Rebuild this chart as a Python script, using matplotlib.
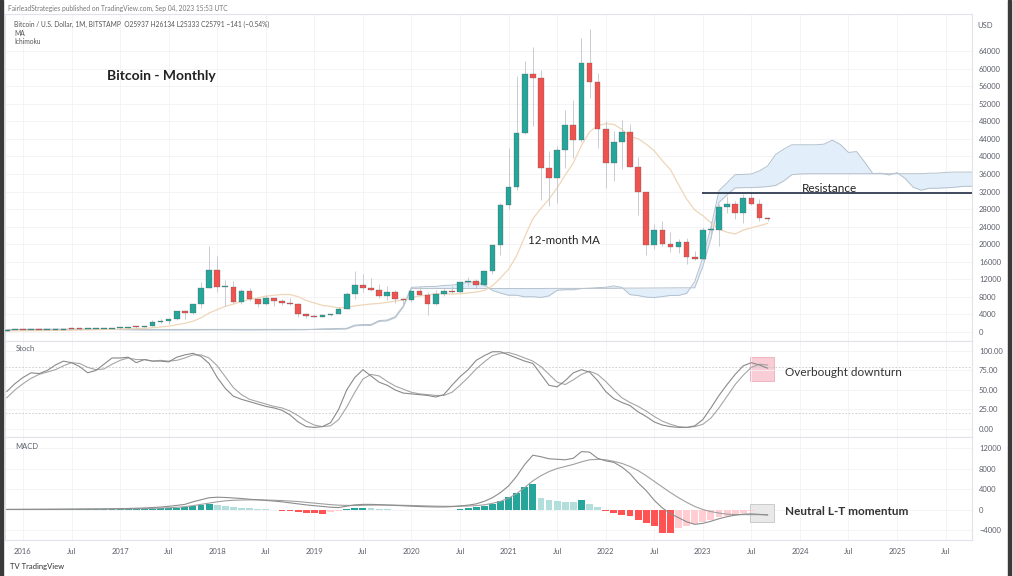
import numpy as np
import matplotlib
matplotlib.use("Agg")
import matplotlib.pyplot as plt
from matplotlib.patches import Rectangle

# ======================================================
# DATA  (monthly bars, first bar = Nov 2015)
# ======================================================
FIRST_MONTH = -2  # Nov 2015, counted from Jan 2016

opens = [311, 377, 430, 369, 437, 416, 448, 531, 673, 624, 575, 608, 699, 742,
         963, 970, 1190, 1080, 1350, 2300, 2480, 2870, 4730, 4340, 6460, 10000,
         14150, 10200, 10300, 6920, 9240, 7490, 6390, 7730, 7030, 6630, 6370, 4040,
         3740, 3460, 3810, 4100, 5320, 8560, 10820, 10080, 9600, 8300, 9150, 7550,
         7190, 9350, 8540, 6410, 8630, 9450, 9140, 11340, 11650, 10780, 13790, 19710,
         28990, 33110, 45240, 58800, 57750, 37300, 35040, 41460, 47100, 43800, 61300, 57000,
         46200, 38500, 43200, 45500, 37700, 31800, 19900, 23300, 20050, 19430, 20500, 17170,
         16540, 23130, 23150, 28470, 29250, 27220, 30470, 29230, 25937]
highs = [495, 465, 460, 448, 440, 466, 550, 780, 705, 626, 628, 720, 756, 978,
         1150, 1200, 1290, 1350, 2790, 3000, 2930, 4750, 5000, 6470, 11400, 19666,
         17200, 11800, 11700, 9750, 9990, 7760, 8500, 7750, 7410, 7680, 6600, 4400,
         4100, 4200, 4140, 5640, 9070, 13880, 13200, 12330, 10950, 10370, 9500, 7750,
         9590, 10500, 9190, 9460, 10080, 10400, 11450, 12480, 12090, 14100, 19880, 29300,
         41950, 58350, 61790, 64900, 59600, 41300, 42300, 50500, 52900, 67000, 69000, 59100,
         47990, 45800, 48200, 47400, 39900, 31900, 24700, 25200, 22800, 21100, 21480, 18400,
         23950, 25250, 29200, 31000, 29820, 31400, 31800, 30200, 26134]
lows = [300, 350, 350, 366, 394, 412, 436, 525, 605, 480, 570, 605, 685, 740,
        750, 940, 890, 1080, 1350, 2100, 1840, 2680, 2980, 4110, 5500, 10000,
        9000, 6000, 6600, 6430, 7030, 5750, 6070, 5880, 6100, 6200, 3500, 3120,
        3350, 3390, 3730, 4080, 5320, 7440, 9070, 9320, 7710, 7300, 6520, 6430,
        6860, 8460, 3850, 6150, 8100, 8900, 8990, 10520, 9880, 10380, 13220, 17570,
        28130, 32300, 45000, 47000, 30000, 28800, 29300, 37300, 39600, 43300, 53300, 42000,
        32900, 34300, 37200, 37600, 26700, 17600, 18800, 19600, 18200, 18100, 15500, 16300,
        16500, 21350, 19550, 27000, 25800, 24800, 28860, 25300, 25333]
closes = [377, 430, 369, 437, 416, 448, 531, 673, 624, 575, 608, 699, 742, 963,
          970, 1190, 1080, 1350, 2300, 2480, 2870, 4730, 4340, 6460, 10000, 14150,
          10200, 10300, 6920, 9240, 7490, 6390, 7730, 7030, 6630, 6370, 4040, 3740,
          3460, 3810, 4100, 5320, 8560, 10820, 10080, 9600, 8300, 9150, 7550, 7190,
          9350, 8540, 6410, 8630, 9450, 9140, 11340, 11650, 10780, 13790, 19710, 28990,
          33110, 45240, 58800, 57750, 37300, 35040, 41460, 47100, 43800, 61300, 57000, 46200,
          38500, 43200, 45500, 37700, 31800, 19900, 23300, 20050, 19430, 20500, 17170, 16540,
          23130, 23150, 28470, 29250, 27220, 30470, 29230, 25940, 25791]

# 12-month moving average
ma12 = [267, 276, 289, 304, 318, 336, 361, 395, 424, 452, 483, 516, 546, 590,
        640, 703, 759, 834, 981, 1132, 1319, 1665, 1976, 2456, 3228, 4327,
        5096, 5855, 6342, 6999, 7432, 7758, 8163, 8354, 8545, 8538, 8041, 7173,
        6612, 6071, 5836, 5509, 5598, 5968, 6163, 6378, 6517, 6748, 7041, 7328,
        7819, 8213, 8406, 8682, 8756, 8616, 8721, 8892, 9098, 9485, 10498, 12315,
        14295, 17353, 21719, 25813, 28133, 30292, 32802, 35756, 38508, 42467, 45574, 47008,
        47458, 47288, 46179, 44508, 44050, 42788, 41275, 39021, 36990, 33590, 30271, 27799,
        26518, 24848, 23428, 22724, 22343, 23223, 23718, 24208, 24738]

# Ichimoku leading spans (plotted 26 bars ahead, to Sep 2025)
span_a = [140, 590, 600, 610, 620, 630, 640, 650, 660, 650, 640, 630, 600, 570,
          540, 500, 480, 470, 460, 460, 455, 457, 460, 470, 480, 490,
          490, 494, 480, 470, 470, 475, 486, 490, 495, 505, 515, 526,
          620, 722, 760, 803, 835, 1578, 1690, 1710, 2600, 2730, 3515, 5980,
          10175, 10250, 10380, 10380, 10600, 10680, 10970, 11330, 11390, 10770, 9450, 8870,
          8365, 8380, 8010, 8045, 7860, 8230, 9500, 9630, 9630, 9890, 9980, 10100,
          10190, 10500, 10160, 8510, 8300, 7950, 7840, 8075, 8330, 8330, 8790, 11490,
          16970, 23800, 32200, 34000, 35850, 35900, 36000, 36700, 37800, 40450, 41650, 42650,
          42650, 42650, 42650, 42800, 43700, 42700, 40900, 41100, 38700, 36100, 36170, 35770,
          36300, 34970, 32970, 32300, 32750, 32750, 32850, 32950, 33150, 33200, 33200]
span_b = [560, 582, 582, 583, 583, 583, 584, 584, 584, 584, 584, 585, 585, 585,
          585, 585, 585, 585, 585, 585, 585, 585, 586, 586, 586, 586,
          586, 586, 586, 586, 586, 587, 587, 587, 587, 587, 587, 587,
          587, 587, 587, 650, 685, 1405, 1510, 1510, 2415, 2540, 3270, 5750,
          9890, 9893, 9895, 9900, 9905, 9905, 9905, 9908, 9908, 9908, 9908, 9908,
          9908, 9908, 9909, 9909, 9909, 9932, 9932, 9932, 9932, 9932, 9932, 9932,
          9945, 9950, 9983, 10008, 10008, 10016, 10030, 10039, 10051, 10073, 10073, 10073,
          14935, 21278, 29518, 31265, 32825, 32895, 32895, 32990, 33125, 33370, 34420, 35840,
          35990, 36060, 36060, 36060, 36060, 36060, 36060, 36060, 36060, 36060, 36060, 36060,
          36060, 36060, 36060, 36060, 36175, 36195, 36365, 36425, 36425, 36425, 36425]

# Stochastic %K / %D
stoch_k = [48, 58, 66, 72, 71, 75, 82, 87, 85, 80, 72, 75, 83, 91,
           91, 92, 85, 89, 87, 87, 86, 92, 95, 97, 93, 84,
           66, 52, 42, 38, 35, 32, 29, 27, 24, 18, 9, 3,
           2, 3, 8, 25, 50, 66, 76, 68, 60, 56, 50, 46,
           45, 44, 43, 41, 44, 56, 67, 76, 88, 94, 99, 99,
           95, 91, 87, 84, 70, 56, 54, 62, 72, 76, 73, 62,
           48, 39, 34, 30, 22, 16, 9, 5, 3, 2, 2, 4,
           12, 27, 43, 57, 70, 81, 85, 82, 78]
stoch_d = [40, 50, 58, 65, 70, 73, 76, 81, 85, 84, 79, 76, 77, 83,
           88, 91, 89, 89, 87, 88, 87, 88, 91, 95, 95, 91,
           81, 67, 53, 44, 38, 35, 32, 29, 27, 23, 17, 10,
           5, 3, 4, 12, 28, 47, 64, 70, 68, 61, 55, 51,
           47, 45, 44, 43, 43, 47, 56, 66, 77, 86, 94, 97,
           98, 95, 91, 87, 80, 70, 60, 57, 63, 70, 74, 70,
           61, 50, 40, 34, 29, 23, 16, 10, 6, 3, 2, 3,
           6, 14, 27, 42, 57, 69, 79, 83, 82]

# MACD line, signal line, histogram
macd_line = [20, 25, 30, 35, 40, 45, 55, 70, 80, 90, 100, 110, 120, 150,
             170, 200, 250, 300, 380, 480, 620, 800, 1000, 1500, 1900, 2300,
             2400, 2350, 2250, 2150, 2000, 1900, 1780, 1650, 1500, 1300, 1100, 900,
             750, 600, 450, 380, 650, 900, 1000, 1000, 950, 870, 800, 720,
             650, 580, 530, 500, 500, 560, 700, 850, 1100, 1600, 2300, 3300,
             4600, 6500, 8800, 10600, 10300, 9900, 9800, 9700, 10000, 11300, 11200, 10000,
             9500, 9200, 8300, 7000, 5200, 3700, 1800, 300, -800, -1600, -2400, -2900,
             -2700, -2300, -1800, -1400, -1100, -900, -850, -950, -1050]
macd_signal = [15, 18, 22, 26, 30, 34, 38, 43, 50, 57, 65, 72, 80, 95,
               110, 125, 150, 180, 220, 270, 340, 430, 550, 750, 1000, 1250,
               1500, 1700, 1800, 1850, 1880, 1880, 1850, 1800, 1750, 1650, 1550, 1400,
               1250, 1100, 950, 850, 800, 800, 820, 850, 870, 870, 850, 820,
               780, 740, 700, 660, 630, 620, 640, 680, 760, 920, 1200, 1600,
               2200, 3100, 4300, 5600, 6600, 7400, 8000, 8400, 8800, 9300, 9700, 9800,
               9700, 9400, 9000, 8400, 7600, 6600, 5500, 4400, 3300, 2300, 1400, 600,
               0, -400, -700, -900, -1000, -1000, -1000, -1000, -1050]
macd_hist = [5, 7, 8, 9, 10, 11, 12, 13, 15, 18, 20, 25, 30, 35,
             40, 60, 80, 110, 150, 200, 270, 360, 480, 650, 850, 1050,
             850, 650, 500, 380, 280, 180, 80, -100, -250, -380, -500, -600,
             -700, -780, -550, -250, 150, 300, 320, 200, 100, 40, -30, -80,
             -120, -150, -120, -100, -80, -40, 60, 200, 400, 650, 1100, 1700,
             2400, 3300, 4400, 5000, 2150, 1800, 1600, 1500, 1450, 1800, 1170, 500,
             -300, -650, -980, -1300, -1950, -2600, -3250, -4500, -4600, -3580, -3200, -2900,
             -2400, -1950, -1500, -1200, -980, -650, -330, -150, -60]

resistance = 31660

x_labels = ["2016", "Jul", "2017", "Jul", "2018", "Jul", "2019", "Jul", "2020", "Jul",
            "2021", "Jul", "2022", "Jul", "2023", "Jul", "2024", "Jul", "2025", "Jul"]
price_ticks = [0, 4000, 8000, 12000, 16000, 20000, 24000, 28000, 32000, 36000,
               40000, 44000, 48000, 52000, 56000, 60000, 64000]
stoch_ticks = [0, 25, 50, 75, 100]
macd_ticks = [-4000, 0, 4000, 8000, 12000]

# ======================================================
# STYLE
# ======================================================
plt.rcParams["font.family"] = ["Lato", "DejaVu Sans"]
UP, DOWN = "#26a69a", "#ef5350"
GRID = "#f2f3f6"
AXIS_TXT = "#5d606b"
W, H = 1013, 576


def frac(x0, y0, x1, y1):
    return [x0 / W, 1 - y1 / H, (x1 - x0) / W, (y1 - y0) / H]


fig = plt.figure(figsize=(W / 100, H / 100), dpi=100)
fig.patch.set_facecolor("white")
ax_p = fig.add_axes(frac(5, 14, 972, 341))
ax_s = fig.add_axes(frac(5, 341, 972, 437), sharex=ax_p)
ax_m = fig.add_axes(frac(5, 437, 972, 540), sharex=ax_p)

xb = np.arange(len(closes)) + FIRST_MONTH
xs = np.arange(len(span_a)) + FIRST_MONTH

for ax in (ax_p, ax_s, ax_m):
    ax.set_xlim(-2.22, 117.26)
    ax.yaxis.tick_right()
    ax.tick_params(axis="y", length=0, pad=5, labelsize=5.5, labelcolor=AXIS_TXT)
    ax.tick_params(axis="x", length=0)
    for sp in ax.spines.values():
        sp.set_color("#e0e3eb")
        sp.set_linewidth(0.8)
    ax.grid(True, color=GRID, lw=0.6)
    ax.set_axisbelow(True)

# ======================================================
# PRICE PANE
# ======================================================
ax_p.fill_between(xs, span_a, span_b, color="#e2eef9", lw=0, zorder=1)
ax_p.plot(xs, span_a, color="#b3c1ce", lw=0.7, zorder=2)
ax_p.plot(xs, span_b, color="#b8c2cc", lw=0.7, zorder=2)
ax_p.plot(xb, ma12, color="#efd6b8", lw=0.9, zorder=2)

for x, o, h, l, c in zip(xb, opens, highs, lows, closes):
    col = UP if c >= o else DOWN
    ax_p.vlines(x, l, h, color="#c0c4cb", lw=0.6, zorder=3)
    body = max(abs(c - o), 250)
    ax_p.bar(x, body, bottom=min(o, c), width=0.7, color=col, edgecolor="#555555",
             lw=0.2, zorder=4)

ax_p.hlines(resistance, 83.9, 117.26, color="#2f3b52", lw=1.3, zorder=5)
ax_p.set_ylim(-2050, 72440)
ax_p.set_yticks(price_ticks)
ax_p.set_yticklabels([str(t) for t in price_ticks])

ax_p.text(10.4, 58300, "Bitcoin - Monthly", fontsize=10, fontweight="bold",
          color="#222222", va="center")
ax_p.text(62.4, 20730, "12-month MA", fontsize=8.3, color="#222222", va="center")
ax_p.text(96.2, 32000, "Resistance", fontsize=8.5, color="#222222", va="baseline")

# ======================================================
# STOCH PANE
# ======================================================
ax_s.axhline(80, color="#c8c8c8", lw=0.6, ls=(0, (2, 2)))
ax_s.axhline(20, color="#c8c8c8", lw=0.6, ls=(0, (2, 2)))
ax_s.plot(xb, stoch_d, color="#a6a6a6", lw=0.8)
ax_s.plot(xb, stoch_k, color="#8a8a8a", lw=0.8)
ax_s.set_ylim(-10.3, 112.8)
ax_s.set_yticks(stoch_ticks)
ax_s.set_yticklabels([f"{t:.2f}" for t in stoch_ticks])
ax_s.add_patch(Rectangle((89.8, 61.5), 3.0, 31, facecolor="#f7c5cf", edgecolor="#e8a3b2",
                         lw=0.6, alpha=0.85, zorder=0.5))
ax_s.text(94.2, 73, "Overbought downturn", fontsize=8.5, color="#333333", va="center")
ax_s.text(0.011, 0.9, "Stoch", transform=ax_s.transAxes, fontsize=5.5, color=AXIS_TXT)

# ======================================================
# MACD PANE
# ======================================================
hist_cols = []
prev = 0
for v in macd_hist:
    if v >= 0:
        hist_cols.append("#26a69a" if v >= prev else "#b2dfdb")
    else:
        hist_cols.append("#ffcdd2" if v >= prev else "#ff5252")
    prev = v
ax_m.bar(xb, macd_hist, width=0.85, color=hist_cols, lw=0, zorder=2)
ax_m.plot(xb, macd_signal, color="#a0a0a0", lw=0.8, zorder=3)
ax_m.plot(xb, macd_line, color="#8c8c8c", lw=0.8, zorder=3)
ax_m.set_ylim(-5950, 14150)
ax_m.set_yticks(macd_ticks)
ax_m.set_yticklabels([str(t).replace("-", "\u2212") for t in macd_ticks])
ax_m.add_patch(Rectangle((89.8, -2440), 3.0, 3510, facecolor="#e9e9e9", edgecolor="#c4c4c4",
                         lw=0.6, zorder=1))
ax_m.text(94.2, -450, "Neutral L-T momentum", fontsize=8.5, fontweight="bold",
          color="#333333", va="center")
ax_m.text(0.011, 0.88, "MACD", transform=ax_m.transAxes, fontsize=5.5, color=AXIS_TXT)

ax_m.set_xticks([6 * i for i in range(len(x_labels))])
ax_m.set_xticklabels(x_labels, fontsize=5.5, color=AXIS_TXT)
ax_m.tick_params(axis="x", pad=6)
plt.setp(ax_p.get_xticklabels(), visible=False)
plt.setp(ax_s.get_xticklabels(), visible=False)

# ======================================================
# HEADER / FOOTER
# ======================================================
fig.text(8 / W, 1 - 8 / H, "FairleadStrategies published on TradingView.com, Sep 04, 2023 15:53 UTC",
         fontsize=4.8, color="#777777", va="center")
fig.text(14 / W, 1 - 24 / H,
         "Bitcoin / U.S. Dollar, 1M, BITSTAMP  O25937 H26134 L25333 C25791 \u2212141 (\u22120.54%)",
         fontsize=4.8, color="#555555", va="center")
fig.text(14 / W, 1 - 33 / H, "MA", fontsize=4.8, color="#555555", va="center")
fig.text(14 / W, 1 - 42 / H, "Ichimoku", fontsize=4.8, color="#555555", va="center")
fig.text(985 / W, 1 - 25 / H, "USD", fontsize=5.5, color=AXIS_TXT, va="center", ha="center")
fig.text(10 / W, 1 - 566 / H, "TV TradingView", fontsize=5.5, color="#333333", va="center")

fig.add_artist(Rectangle((0, 0), 2.5 / W, 1, transform=fig.transFigure, color="#3a3a3a"))
fig.add_artist(Rectangle((1008 / W, 0), 2.5 / W, 1, transform=fig.transFigure, color="#3a3a3a"))

fig.savefig("out.png", dpi=100)
